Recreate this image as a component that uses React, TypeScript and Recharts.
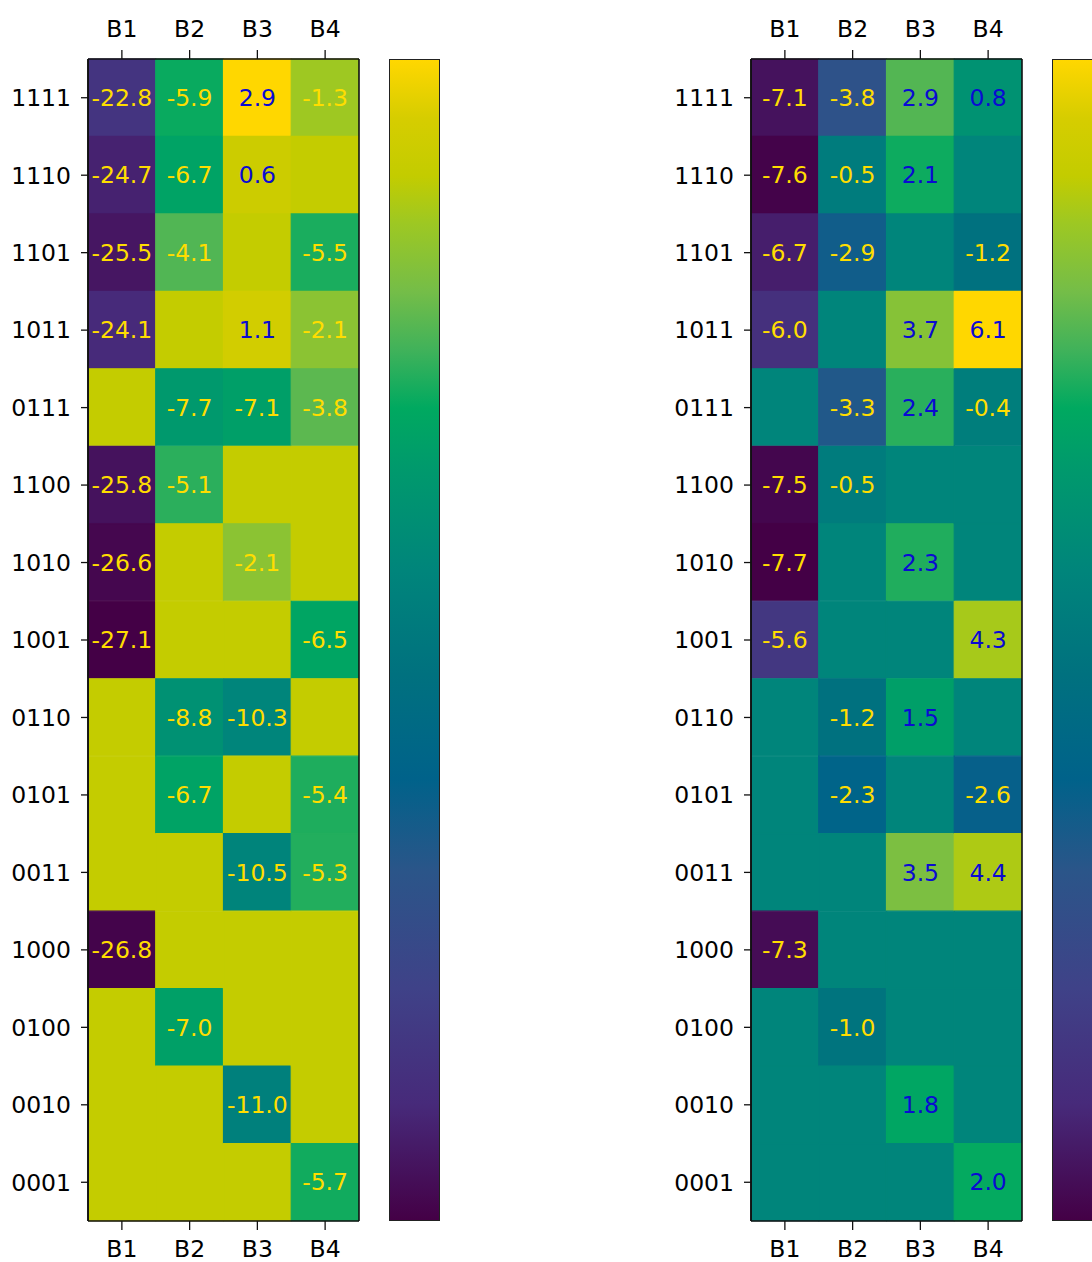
import React from "react";
import { BarChart, Bar, XAxis, YAxis, Cell, LabelList, ReferenceLine } from "recharts";

const ROWS = ["1111", "1110", "1101", "1011", "0111", "1100", "1010", "1001", "0110", "0101", "0011", "1000", "0100", "0010", "0001"];
const COLS = ["B1", "B2", "B3", "B4"];

// left panel, one array per column (null = empty cell)
const leftB1 = [-22.8, -24.7, -25.5, -24.1, null, -25.8, -26.6, -27.1, null, null, null, -26.8, null, null, null];
const leftB2 = [-5.9, -6.7, -4.1, null, -7.7, -5.1, null, null, -8.8, -6.7, null, null, -7.0, null, null];
const leftB3 = [2.9, 0.6, null, 1.1, -7.1, null, -2.1, null, -10.3, null, -10.5, null, null, -11.0, null];
const leftB4 = [-1.3, null, -5.5, -2.1, -3.8, null, null, -6.5, null, -5.4, -5.3, null, null, null, -5.7];

// right panel
const rightB1 = [-7.1, -7.6, -6.7, -6.0, null, -7.5, -7.7, -5.6, null, null, null, -7.3, null, null, null];
const rightB2 = [-3.8, -0.5, -2.9, null, -3.3, -0.5, null, null, -1.2, -2.3, null, null, -1.0, null, null];
const rightB3 = [2.9, 2.1, null, 3.7, 2.4, null, 2.3, null, 1.5, null, 3.5, null, null, 1.8, null];
const rightB4 = [0.8, null, -1.2, 6.1, -0.4, null, null, 4.3, null, -2.6, 4.4, null, null, null, 2.0];

const CMAP: [number, string][] = [
  [0.0, "#440046"],
  [0.1, "#472a7a"],
  [0.2, "#3f4288"],
  [0.3, "#2b5589"],
  [0.38, "#00628a"],
  [0.47, "#00717f"],
  [0.56, "#00857b"],
  [0.65, "#009a6c"],
  [0.7, "#00a960"],
  [0.75, "#40b25a"],
  [0.8, "#74bd48"],
  [0.86, "#9ec822"],
  [0.9, "#c3cc00"],
  [0.95, "#d6cd00"],
  [1.0, "#ffd700"],
];

const hex = (c: string) => [1, 3, 5].map((i) => parseInt(c.slice(i, i + 2), 16));

function cmap(t: number) {
  t = Math.max(0, Math.min(1, t));
  for (let i = 1; i < CMAP.length; i++) {
    const [t1, c1] = CMAP[i];
    const [t0, c0] = CMAP[i - 1];
    if (t <= t1) {
      const f = (t - t0) / (t1 - t0);
      const a = hex(c0);
      const b = hex(c1);
      const m = a.map((v, k) => Math.round(v + (b[k] - v) * f));
      return `rgb(${m[0]},${m[1]},${m[2]})`;
    }
  }
  return CMAP[CMAP.length - 1][1];
}

const gradient =
  "linear-gradient(to top, " + CMAP.map(([t, c]) => `${c} ${t * 100}%`).join(", ") + ")";

const FONT = "DejaVu Sans";
const tickStyle = { fontSize: 23.5, fill: "#000", fontFamily: FONT };

function CellLabel(props: any) {
  const { x, y, width, height, value } = props;
  if (value === null || value === undefined) return null;
  return (
    <text
      x={x + width / 2}
      y={y + height / 2}
      dy="0.36em"
      textAnchor="middle"
      fontSize={23.5}
      fontFamily={FONT}
      fill={value < 0 ? "#ffdd00" : "#0a0ad2"}
    >
      {value.toFixed(1)}
    </text>
  );
}

function Heatmap({ cols, left }: { cols: (number | null)[][]; left: number }) {
  const all = cols.flat().filter((v) => v !== null) as number[];
  const lo = Math.min(...all);
  const hi = Math.max(...all);
  const data = ROWS.map((row, i) => {
    const d: any = { row };
    cols.forEach((c, j) => {
      d[`w${j}`] = 1;
      d[`v${j}`] = c[i];
    });
    return d;
  });
  const axisLine = { stroke: "#111", strokeWidth: 1.6 };
  const tickLine = { stroke: "#111", strokeWidth: 1.3 };
  return (
    <div style={{ position: "absolute", left, top: 0 }}>
      <BarChart
        width={460}
        height={1262}
        layout="vertical"
        data={data}
        margin={{ top: 0, right: 101, bottom: 0, left: 0 }}
        barCategoryGap={0}
      >
        <XAxis
          xAxisId="bottom"
          type="number"
          orientation="bottom"
          domain={[0, 4]}
          ticks={[0.5, 1.5, 2.5, 3.5]}
          tickFormatter={(v: number) => COLS[Math.floor(v)]}
          height={41}
          tickSize={9}
          tickMargin={10}
          axisLine={axisLine}
          tickLine={tickLine}
          tick={tickStyle}
          allowDataOverflow
        />
        <XAxis
          xAxisId="top"
          type="number"
          orientation="top"
          domain={[0, 4]}
          ticks={[0.5, 1.5, 2.5, 3.5]}
          tickFormatter={(v: number) => COLS[Math.floor(v)]}
          height={59}
          tickSize={9}
          tickMargin={13}
          axisLine={axisLine}
          tickLine={tickLine}
          tick={tickStyle}
          allowDataOverflow
        />
        <YAxis
          type="category"
          dataKey="row"
          width={88}
          tickSize={7}
          tickMargin={10}
          interval={0}
          axisLine={axisLine}
          tickLine={tickLine}
          tick={tickStyle}
        />
        {cols.map((_, j) => (
          <Bar key={j} dataKey={`w${j}`} stackId="s" xAxisId="bottom" isAnimationActive={false}>
            {data.map((d, i) => {
              const v = d[`v${j}`] ?? 0;
              const fill = cmap((v - lo) / (hi - lo));
              return <Cell key={i} fill={fill} stroke={fill} strokeWidth={1.2} />;
            })}
            <LabelList dataKey={`v${j}`} content={CellLabel} />
          </Bar>
        ))}
        <ReferenceLine x={4} xAxisId="bottom" stroke="#111" strokeWidth={1.6} />
        <ReferenceLine x={0} xAxisId="bottom" stroke="#111" strokeWidth={1.6} />
      </BarChart>
      <div
        style={{
          position: "absolute",
          left: 389,
          top: 59,
          width: 51,
          height: 1162,
          boxSizing: "border-box",
          border: "1.5px solid #222",
          background: gradient,
        }}
      />
    </div>
  );
}

export default function App() {
  return (
    <div
      style={{
        position: "absolute",
        left: 0,
        top: 0,
        width: 1092,
        height: 1262,
        overflow: "hidden",
        background: "#fff",
      }}
    >
      <Heatmap cols={[leftB1, leftB2, leftB3, leftB4]} left={0} />
      <Heatmap cols={[rightB1, rightB2, rightB3, rightB4]} left={663} />
    </div>
  );
}
